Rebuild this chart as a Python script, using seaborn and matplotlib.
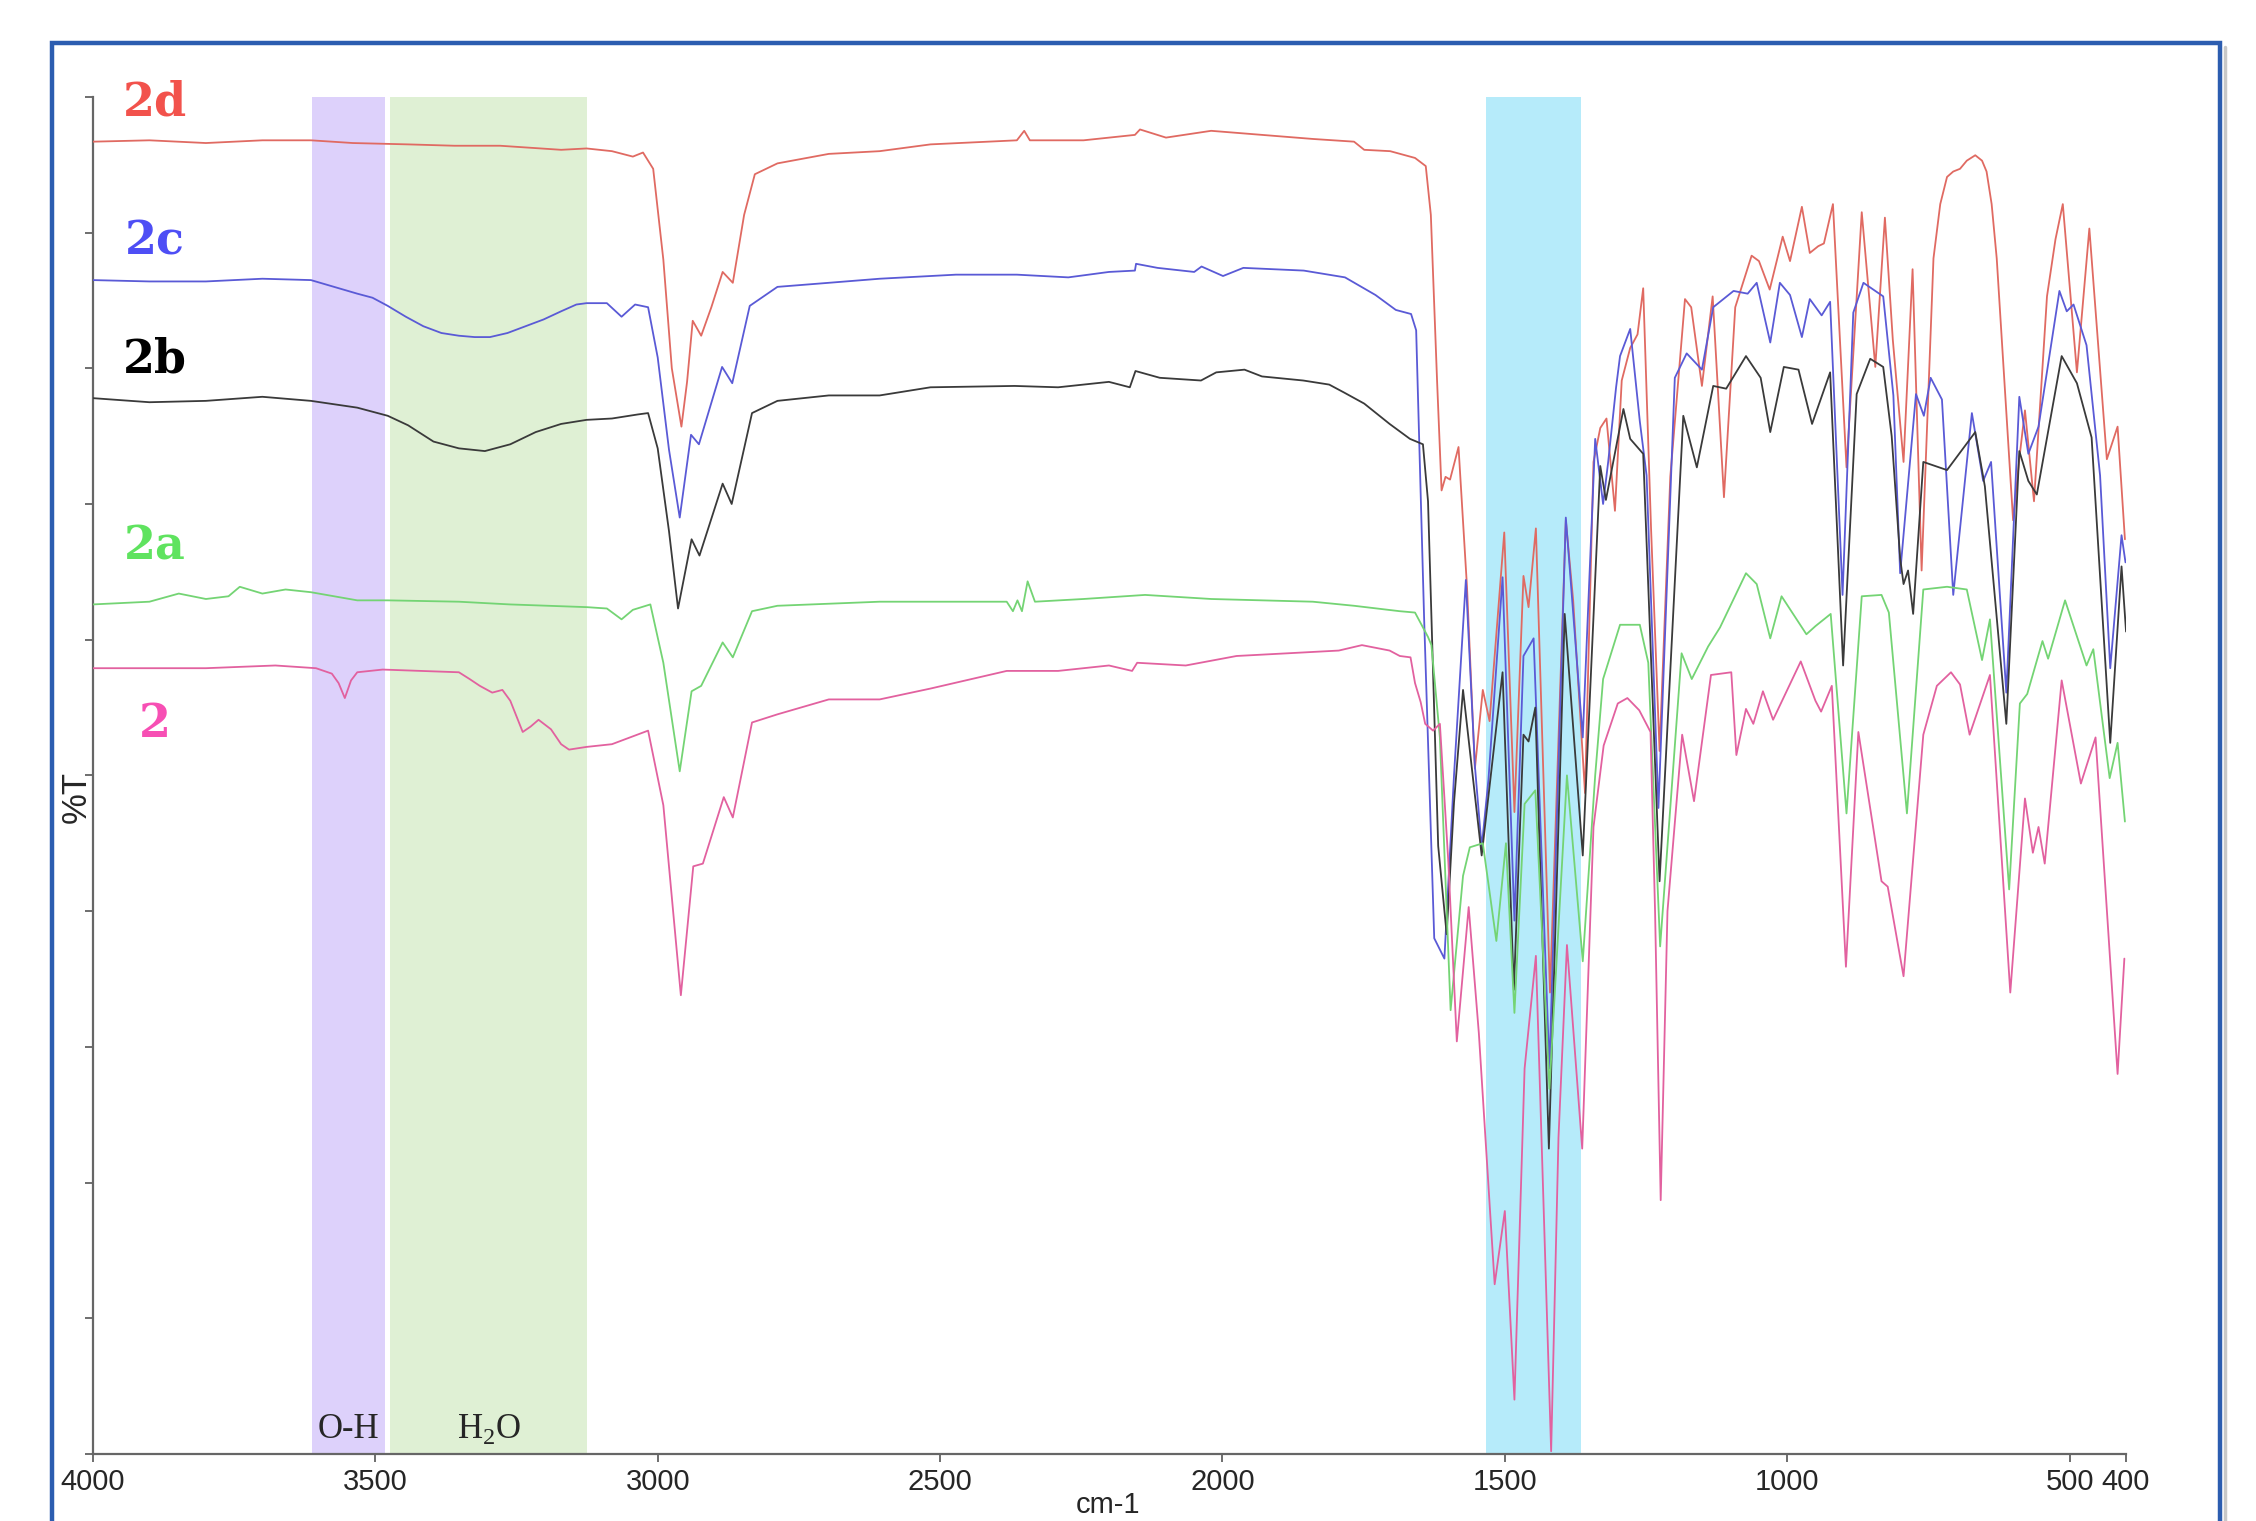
import numpy as np
import pandas as pd
import matplotlib
matplotlib.use("Agg")
import matplotlib.pyplot as plt
import seaborn as sns
from matplotlib.patches import Rectangle
from matplotlib.lines import Line2D

# ---- spectra (wavenumber cm-1, %T) ----
wn_2d = [4000, 3900, 3800, 3700, 3614, 3540, 3442, 3360, 3279, 3171, 3126, 3081, 3044, 3026, 3008, 2990,
         2975, 2958, 2948, 2938, 2923, 2905, 2885, 2867, 2847, 2828, 2788, 2697, 2607, 2517, 2364, 2351,
         2341, 2246, 2155, 2146, 2100, 2020, 1930, 1840, 1767, 1749, 1703, 1659, 1640, 1631, 1620, 1612,
         1605, 1597, 1582, 1567, 1553, 1539, 1527, 1501, 1483, 1467, 1458, 1445, 1420, 1392, 1379, 1358,
         1343, 1331, 1320, 1305, 1293, 1278, 1265, 1255, 1241, 1226, 1207, 1181, 1170, 1151, 1132, 1112,
         1092, 1063, 1050, 1031, 1008, 995, 974, 960, 945, 935, 919, 895, 868, 844, 827, 813, 794, 778,
         762, 741, 729, 717, 706, 694, 682, 667, 655, 647, 638, 629, 623, 614, 605, 600, 588, 579, 563,
         540, 525, 512, 487, 465, 434, 415, 402]
t_2d = [96.7, 96.8, 96.6, 96.8, 96.8, 96.6, 96.5, 96.4, 96.4, 96.1, 96.2, 96.0, 95.6, 95.9, 94.7, 88.0,
        80.0, 75.7, 79.0, 83.5, 82.4, 84.5, 87.1, 86.3, 91.3, 94.3, 95.1, 95.8, 96.0, 96.5, 96.8, 97.5,
        96.8, 96.8, 97.2, 97.6, 97.0, 97.5, 97.2, 96.9, 96.7, 96.1, 96.0, 95.5, 94.9, 91.3, 79.1, 71.0,
        72.0, 71.8, 74.2, 63.9, 50.5, 56.3, 54.0, 67.9, 47.3, 64.7, 62.4, 68.2, 34.0, 68.8, 62.9, 48.7,
        73.1, 75.6, 76.3, 69.5, 79.1, 81.5, 82.5, 85.9, 68.1, 51.8, 72.0, 85.1, 84.5, 78.7, 85.3, 70.5,
        84.5, 88.3, 87.9, 85.8, 89.7, 87.9, 91.9, 88.5, 89.0, 89.2, 92.1, 72.7, 91.5, 80.1, 91.1, 82.1,
        73.1, 87.3, 65.1, 88.1, 92.1, 94.1, 94.5, 94.7, 95.3, 95.7, 95.3, 94.5, 92.1, 88.1, 84.1, 78.1,
        72.1, 68.8, 73.7, 76.9, 70.2, 85.3, 89.5, 92.1, 79.7, 90.3, 73.3, 75.7, 67.4]

wn_2c = [4000, 3900, 3800, 3700, 3614, 3532, 3505, 3478, 3446, 3415, 3383, 3352, 3324, 3297, 3266, 3234,
         3202, 3171, 3144, 3126, 3090, 3064, 3040, 3017, 3000, 2980, 2961, 2941, 2927, 2886, 2868, 2837,
         2788, 2697, 2607, 2472, 2364, 2273, 2201, 2155, 2153, 2115, 2050, 2037, 1999, 1963, 1856, 1783,
         1729, 1693, 1666, 1657, 1643, 1625, 1607, 1590, 1569, 1553, 1541, 1529, 1504, 1483, 1467, 1449,
         1421, 1392, 1362, 1340, 1326, 1317, 1303, 1296, 1278, 1261, 1249, 1228, 1199, 1178, 1151, 1131,
         1095, 1070, 1054, 1030, 1013, 995, 974, 960, 939, 924, 902, 883, 865, 830, 812, 800, 772, 758,
         746, 726, 706, 673, 653, 639, 612, 589, 573, 555, 518, 505, 493, 470, 446, 428, 408, 401]
t_2c = [86.5, 86.4, 86.4, 86.6, 86.5, 85.5, 85.2, 84.6, 83.8, 83.1, 82.6, 82.4, 82.3, 82.3, 82.6, 83.1,
        83.6, 84.2, 84.7, 84.8, 84.8, 83.8, 84.7, 84.5, 80.8, 74.0, 69.0, 75.1, 74.4, 80.1, 78.9, 84.6,
        86.0, 86.3, 86.6, 86.9, 86.9, 86.7, 87.1, 87.2, 87.7, 87.4, 87.1, 87.5, 86.8, 87.4, 87.2, 86.7,
        85.4, 84.3, 84.0, 82.8, 61.7, 38.0, 36.5, 50.0, 64.4, 50.7, 44.7, 49.7, 64.6, 39.3, 58.8, 60.1,
        28.4, 69.0, 52.8, 74.8, 70.0, 73.1, 78.6, 80.9, 82.9, 76.1, 72.1, 47.6, 79.3, 81.1, 79.9, 84.5,
        85.7, 85.5, 86.3, 81.9, 86.3, 85.4, 82.3, 85.1, 83.9, 84.9, 63.3, 84.1, 86.3, 85.3, 78.0, 64.9,
        78.1, 76.5, 79.3, 77.7, 63.3, 76.7, 71.7, 73.1, 56.1, 77.9, 73.7, 75.7, 85.7, 84.2, 84.7, 81.7,
        72.1, 57.9, 67.7, 65.7]

wn_2b = [4000, 3900, 3800, 3700, 3614, 3532, 3478, 3442, 3397, 3352, 3306, 3261, 3216, 3171, 3126, 3081,
         3035, 3017, 3000, 2980, 2964, 2940, 2926, 2885, 2869, 2833, 2788, 2697, 2607, 2517, 2368, 2291,
         2201, 2164, 2154, 2111, 2038, 2011, 1961, 1930, 1857, 1811, 1784, 1749, 1704, 1668, 1645, 1636,
         1618, 1603, 1590, 1574, 1541, 1504, 1484, 1467, 1458, 1446, 1422, 1394, 1362, 1331, 1321, 1290,
         1278, 1255, 1226, 1184, 1160, 1131, 1108, 1073, 1047, 1030, 1006, 980, 956, 924, 901, 877, 853,
         830, 815, 800, 794, 786, 777, 759, 717, 667, 650, 612, 589, 573, 558, 514, 487, 461, 428, 408, 400]
t_2b = [77.8, 77.5, 77.6, 77.9, 77.6, 77.1, 76.5, 75.8, 74.6, 74.1, 73.9, 74.4, 75.3, 75.9, 76.2, 76.3,
        76.6, 76.7, 74.1, 68.0, 62.3, 67.4, 66.2, 71.5, 70.0, 76.7, 77.6, 78.0, 78.0, 78.6, 78.7, 78.6,
        79.0, 78.6, 79.8, 79.3, 79.1, 79.7, 79.9, 79.4, 79.1, 78.8, 78.2, 77.4, 75.9, 74.8, 74.4, 70.2,
        44.8, 38.3, 48.0, 56.3, 44.1, 57.6, 34.2, 53.0, 52.5, 55.0, 22.5, 61.9, 44.1, 72.8, 70.3, 77.0,
        74.8, 73.7, 42.2, 76.5, 72.7, 78.7, 78.5, 80.9, 79.3, 75.3, 80.1, 79.9, 75.9, 79.7, 58.1, 78.1,
        80.7, 80.1, 75.0, 66.0, 64.1, 65.1, 61.9, 73.1, 72.5, 75.3, 71.3, 53.8, 73.9, 71.7, 70.7, 80.9,
        78.9, 74.9, 52.4, 65.4, 60.6]

wn_2a = [4000, 3900, 3848, 3800, 3760, 3740, 3700, 3659, 3614, 3532, 3478, 3352, 3262, 3126, 3090, 3064,
         3044, 3013, 2990, 2961, 2940, 2923, 2885, 2867, 2833, 2788, 2607, 2382, 2371, 2363, 2355, 2345,
         2332, 2246, 2137, 2020, 1840, 1767, 1686, 1659, 1636, 1630, 1615, 1596, 1574, 1562, 1539, 1515,
         1498, 1483, 1465, 1446, 1421, 1390, 1362, 1340, 1326, 1296, 1261, 1246, 1225, 1187, 1169, 1140,
         1119, 1073, 1054, 1030, 1010, 966, 950, 923, 895, 868, 833, 820, 788, 759, 717, 682, 655, 641,
         607, 588, 575, 548, 538, 508, 470, 458, 429, 415, 402]
t_2a = [62.6, 62.8, 63.4, 63.0, 63.2, 63.9, 63.4, 63.7, 63.5, 62.9, 62.9, 62.8, 62.6, 62.4, 62.3, 61.5,
        62.2, 62.6, 58.3, 50.3, 56.2, 56.6, 59.8, 58.7, 62.1, 62.5, 62.8, 62.8, 62.1, 62.9, 62.1, 64.3,
        62.8, 63.0, 63.3, 63.0, 62.8, 62.5, 62.1, 62.0, 60.2, 59.6, 52.8, 32.7, 42.6, 44.7, 45.0, 37.8,
        45.0, 32.5, 47.9, 48.9, 26.9, 50.0, 36.3, 50.0, 57.1, 61.1, 61.1, 58.3, 37.4, 59.0, 57.1, 59.5,
        60.9, 64.9, 64.1, 60.1, 63.2, 60.4, 61.0, 61.9, 47.2, 63.2, 63.3, 62.0, 47.2, 63.7, 63.9, 63.7,
        58.5, 61.5, 41.6, 55.3, 56.0, 59.9, 58.6, 62.9, 58.1, 59.3, 49.8, 52.4, 46.6]

wn_2 = [4000, 3800, 3677, 3605, 3577, 3565, 3554, 3543, 3532, 3487, 3352, 3333, 3315, 3293, 3275, 3261,
        3239, 3225, 3211, 3189, 3171, 3157, 3126, 3081, 3017, 2990, 2959, 2937, 2920, 2883, 2867, 2833,
        2788, 2697, 2607, 2517, 2382, 2291, 2201, 2160, 2151, 2065, 1975, 1884, 1794, 1753, 1704, 1686,
        1667, 1659, 1649, 1641, 1627, 1615, 1600, 1585, 1564, 1546, 1518, 1500, 1483, 1465, 1445, 1418,
        1405, 1390, 1363, 1343, 1325, 1300, 1283, 1262, 1242, 1234, 1224, 1212, 1186, 1165, 1135, 1099,
        1090, 1073, 1060, 1043, 1025, 976, 950, 940, 921, 896, 874, 833, 822, 794, 759, 735, 710, 694,
        677, 641, 605, 579, 565, 555, 544, 514, 480, 454, 415, 403]
t_2 = [57.9, 57.9, 58.1, 57.9, 57.5, 56.8, 55.7, 57.0, 57.6, 57.8, 57.6, 57.1, 56.6, 56.1, 56.3, 55.5,
       53.2, 53.6, 54.1, 53.4, 52.3, 51.9, 52.1, 52.3, 53.3, 47.8, 33.8, 43.3, 43.5, 48.4, 46.9, 53.9,
       54.5, 55.6, 55.6, 56.4, 57.7, 57.7, 58.1, 57.7, 58.3, 58.1, 58.8, 59.0, 59.2, 59.6, 59.2, 58.8,
       58.7, 56.8, 55.4, 53.8, 53.3, 53.8, 43.6, 30.4, 40.3, 31.0, 12.5, 17.9, 4.0, 28.4, 36.7, 0.2,
       23.3, 37.5, 22.5, 46.2, 52.2, 55.3, 55.7, 54.8, 53.2, 40.0, 18.7, 40.0, 53.0, 48.1, 57.4, 57.6,
       51.5, 54.9, 53.8, 56.2, 54.1, 58.4, 55.5, 54.7, 56.6, 35.9, 53.2, 42.2, 41.8, 35.2, 53.0, 56.6,
       57.6, 56.7, 53.0, 57.4, 34.0, 48.3, 44.3, 46.2, 43.5, 57.0, 49.4, 52.8, 28.0, 36.5]

samples = ["2d", "2c", "2b", "2a", "2"]
line_colors = ["#e06a62", "#5a5ad6", "#3a3a3a", "#74d474", "#e2619f"]
label_colors = ["#f2524c", "#4e4ef5", "#000000", "#5fe35f", "#f74fb4"]
label_y = [98.6, 88.4, 79.7, 65.9, 52.8]

bands = [(3612, 3483, "#ddd1fb"), (3474, 3125, "#dff0d4"), (1533, 1365, "#b6ebfa")]
xticks = [4000, 3500, 3000, 2500, 2000, 1500, 1000, 500, 400]

frames = []
for name, w, t in zip(samples, [wn_2d, wn_2c, wn_2b, wn_2a, wn_2], [t_2d, t_2c, t_2b, t_2a, t_2]):
    frames.append(pd.DataFrame({"wavenumber": w, "T": t, "sample": name}))
df = pd.concat(frames, ignore_index=True)

sns.set_style("white")
plt.rcParams["font.family"] = ["Liberation Sans", "DejaVu Sans"]
plt.rcParams["mathtext.fontset"] = "custom"
plt.rcParams["mathtext.rm"] = "Liberation Serif"

fig = plt.figure(figsize=(22.56, 15.21), dpi=100)
ax = fig.add_axes([0.0412, 0.0441, 0.9012, 0.8922])

for x0, x1, c in bands:
    ax.axvspan(x0, x1, color=c, lw=0, zorder=0)

sns.lineplot(data=df, x="wavenumber", y="T", hue="sample", palette=dict(zip(samples, line_colors)),
             sort=False, estimator=None, linewidth=1.3, legend=False, ax=ax, zorder=3,
             solid_joinstyle="round")

for name, y, c in zip(samples, label_y, label_colors):
    ax.text(3891, y, name, color=c, fontsize=33, fontweight="bold", family="DejaVu Serif",
            ha="center", va="baseline")

ax.text(3547, 1.2, "O-H", fontsize=25, family="Liberation Serif", ha="center", va="baseline")
ax.text(3299, 1.2, r"H$_\mathrm{2}$O", fontsize=25, family="Liberation Serif", ha="center", va="baseline")

ax.set_xlim(4000, 400)
ax.set_ylim(0, 100)
ax.set_xticks(xticks)
ax.set_xticklabels([str(v) for v in xticks], family=["Liberation Sans Narrow", "Liberation Sans"], fontsize=21)
ax.set_yticks(np.arange(0, 101, 10))
ax.set_yticklabels([])
ax.tick_params(axis="both", direction="out", length=6, width=1.2, color="#555555", pad=4, bottom=True, left=True)
ax.set_xlabel("")
ax.set_ylabel("%T", fontsize=25)
ax.yaxis.set_label_coords(0.0, 0.484)
for s in ["top", "right"]:
    ax.spines[s].set_visible(False)
for s in ["left", "bottom"]:
    ax.spines[s].set_color("#666666")
    ax.spines[s].set_linewidth(1.6)

fig.text(0.491, 0.001, "cm-1", fontsize=21, family=["Liberation Sans Narrow", "Liberation Sans"],
         ha="center", va="bottom")

# blue frame around the figure
fig.patches.append(Rectangle((0.0232, -0.05), 0.9608, 1.0217, transform=fig.transFigure,
                             fill=False, ec="#2c5db0", lw=3.2, zorder=10))
fig.lines.append(Line2D([0.9862, 0.9862], [0.0, 0.969], transform=fig.transFigure,
                        color="#c8c8c8", lw=2.5))

fig.savefig("out.png", dpi=100)
